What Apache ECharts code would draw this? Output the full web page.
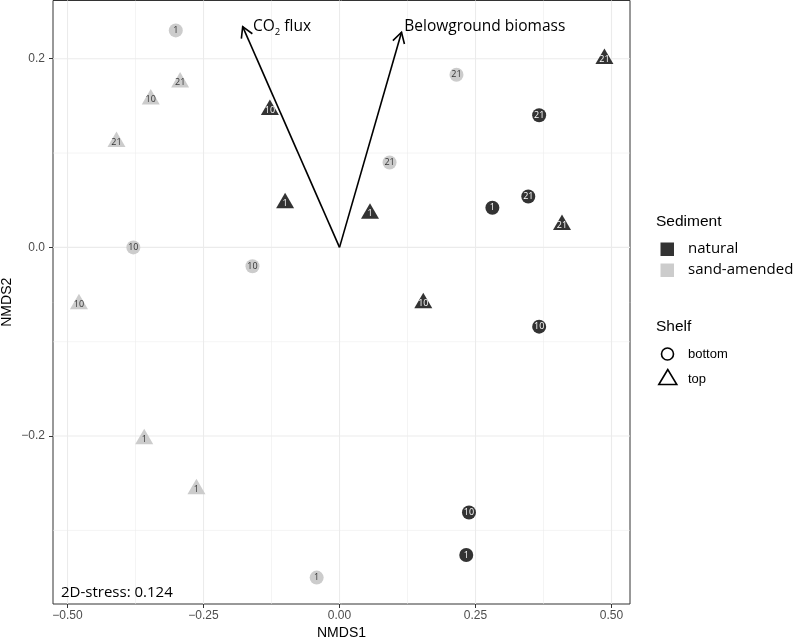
<!DOCTYPE html>
<html><head><meta charset="utf-8">
<script src="https://cdn.jsdelivr.net/npm/echarts@6/dist/echarts.min.js"></script>
<style>html,body{margin:0;padding:0;background:#fff}#c{width:797px;height:641px}</style>
</head><body><div id="c"></div>
<script>
// ---- tick values / labels ----
const xTicks = [-0.5, -0.25, 0, 0.25, 0.5];
const xTickLabels = ['\u22120.50', '\u22120.25', '0.00', '0.25', '0.50'];
const yTicks = [-0.2, 0, 0.2];
const yTickLabels = ['\u22120.2', '0.0', '0.2'];
const xMinor = [-0.375, -0.125, 0.125, 0.375];
const yMinor = [-0.3, -0.1, 0.1];

// ---- site scores: [NMDS1, NMDS2, day] ----
const naturalBottom = [[0.367, 0.140, 21], [0.281, 0.042, 1], [0.347, 0.054, 21], [0.367, -0.084, 10], [0.238, -0.281, 10], [0.233, -0.326, 1]];
const naturalTop = [[0.487, 0.200, 21], [-0.128, 0.146, 10], [-0.100, 0.047, 1], [0.056, 0.036, 1], [0.409, 0.024, 21], [0.154, -0.059, 10]];
const sandBottom = [[-0.301, 0.230, 1], [0.215, 0.183, 21], [0.092, 0.090, 21], [-0.379, 0.000, 10], [-0.160, -0.020, 10], [-0.042, -0.350, 1]];
const sandTop = [[-0.293, 0.175, 21], [-0.347, 0.157, 10], [-0.410, 0.112, 21], [-0.479, -0.060, 10], [-0.359, -0.203, 1], [-0.263, -0.256, 1]];

// ---- environmental vectors ----
const vectorNames = ['{n|CO}{s|2}{n| flux}', '{n|Belowground biomass}'];
const vectorX = [-0.178, 0.114];
const vectorY = [0.234, 0.228];
const vectorLabelX = [-0.159, 0.119];
const vectorLabelY = [0.2338, 0.2338];

const stressText = '2D-stress: 0.124';

const DARK = '#333333', LIGHT = '#cccccc';
const chart = echarts.init(document.getElementById('c'), null, {renderer: 'canvas'});

const gridLines = [];
xTicks.forEach(v => gridLines.push([v, 0, 1, 1.1]));
xMinor.forEach(v => gridLines.push([v, 0, 1, 0.55]));
yTicks.forEach(v => gridLines.push([0, v, 0, 1.1]));
yMinor.forEach(v => gridLines.push([0, v, 0, 0.55]));

const vectorData = vectorX.map((x, i) => [x, vectorY[i], vectorLabelX[i], vectorLabelY[i]]);

function pointSeries(data, color, textColor, shape) {
  const tri = shape === 'triangle';
  return {
    type: 'scatter', data: data, z: 5,
    symbol: tri ? 'triangle' : 'circle',
    symbolSize: tri ? [18, 15.5] : 14,
    symbolOffset: tri ? [0, -2.5] : [0, 0],
    itemStyle: {color: color, opacity: 1},
    label: {show: true, position: 'inside', formatter: p => String(p.value[2]),
      color: textColor, fontSize: 9, fontFamily: 'Open Sans', offset: tri ? [0, 3] : [0, 0]},
    emphasis: {disabled: true}, silent: true
  };
}

const option = {
  animation: false,
  backgroundColor: '#fff',
  grid: {left: 53, right: 167, top: 0.5, bottom: 37, containLabel: false, outerBoundsMode: 'none',
    show: true, borderColor: '#333', borderWidth: 1, backgroundColor: '#fff'},
  xAxis: {
    type: 'value', min: -0.5267, max: 0.534,
    name: 'NMDS1', nameLocation: 'middle', nameGap: 22, nameMoveOverlap: false,
    nameTextStyle: {fontFamily: 'Liberation Sans', fontSize: 14, color: '#000'},
    axisLine: {show: false, onZero: false},
    axisTick: {show: true, customValues: xTicks, length: 4, lineStyle: {color: '#333', width: 1}},
    axisLabel: {customValues: xTicks, formatter: v => { const i = xTicks.findIndex(t => Math.abs(t - v) < 1e-9); return i >= 0 ? xTickLabels[i] : ''; },
      color: '#4d4d4d', fontSize: 12, fontFamily: 'Liberation Sans', margin: 6},
    splitLine: {show: false}
  },
  yAxis: {
    type: 'value', min: -0.378, max: 0.2617,
    name: 'NMDS2', nameLocation: 'middle', nameGap: 39, nameMoveOverlap: false,
    nameTextStyle: {fontFamily: 'Liberation Sans', fontSize: 14, color: '#000'},
    axisLine: {show: false, onZero: false},
    axisTick: {show: true, customValues: yTicks, length: 4, lineStyle: {color: '#333', width: 1}},
    axisLabel: {customValues: yTicks, formatter: v => { const i = yTicks.findIndex(t => Math.abs(t - v) < 1e-9); return i >= 0 ? yTickLabels[i] : ''; },
      color: '#4d4d4d', fontSize: 12, fontFamily: 'Liberation Sans', margin: 8},
    splitLine: {show: false}
  },
  series: [
    {
      type: 'custom', z: 1, silent: true, data: gridLines, encode: {x: 0, y: 1},
      renderItem: (params, api) => {
        const cs = params.coordSys;
        const isX = api.value(2) === 1;
        const w = api.value(3);
        const p = api.coord([api.value(0), api.value(1)]);
        const shape = isX ? {x1: p[0], y1: cs.y, x2: p[0], y2: cs.y + cs.height}
                          : {x1: cs.x, y1: p[1], x2: cs.x + cs.width, y2: p[1]};
        return {type: 'line', shape: shape, style: {stroke: '#ebebeb', lineWidth: w}};
      }
    },
    {
      type: 'custom', z: 3, silent: true, data: vectorData, encode: {x: 0, y: 1},
      renderItem: (params, api) => {
        const o = api.coord([0, 0]);
        const t = api.coord([api.value(0), api.value(1)]);
        const ang = Math.atan2(t[1] - o[1], t[0] - o[0]);
        const L = 12, a = Math.PI / 6;
        const b1 = [t[0] - L * Math.cos(ang - a), t[1] - L * Math.sin(ang - a)];
        const b2 = [t[0] - L * Math.cos(ang + a), t[1] - L * Math.sin(ang + a)];
        const lp = api.coord([api.value(2), api.value(3)]);
        return {type: 'group', children: [
          {type: 'line', shape: {x1: o[0], y1: o[1], x2: t[0], y2: t[1]}, style: {stroke: '#000', lineWidth: 1.6}},
          {type: 'polyline', shape: {points: [b1, t, b2]}, style: {stroke: '#000', lineWidth: 1.6, fill: null}},
          {type: 'text', x: lp[0], y: lp[1], style: {
            text: vectorNames[params.dataIndex], align: 'left', verticalAlign: 'middle', fill: '#000',
            rich: {
              n: {fontFamily: 'Open Sans', fontSize: 15.5, lineHeight: 20, fill: '#000'},
              s: {fontFamily: 'Open Sans', fontSize: 9.5, lineHeight: 9, verticalAlign: 'bottom', fill: '#000'}
            }}}
        ]};
      }
    },
    pointSeries(naturalBottom, DARK, '#fff', 'circle'),
    pointSeries(naturalTop, DARK, '#fff', 'triangle'),
    pointSeries(sandBottom, LIGHT, '#333', 'circle'),
    pointSeries(sandTop, LIGHT, '#333', 'triangle')
  ],
  graphic: [
    {type: 'text', left: 61, top: 585, style: {text: stressText, fontFamily: 'Open Sans', fontSize: 15, fill: '#000'}, z: 10},
    // legend: Sediment
    {type: 'text', x: 656, y: 222, style: {text: 'Sediment', fontFamily: 'Liberation Sans', fontSize: 15.5, fill: '#000', verticalAlign: 'middle'}},
    {type: 'rect', shape: {x: 660.5, y: 242.5, width: 13.5, height: 13.5}, style: {fill: DARK}},
    {type: 'rect', shape: {x: 660.5, y: 263.5, width: 13.5, height: 13.5}, style: {fill: LIGHT}},
    {type: 'text', x: 688, y: 249, style: {text: 'natural', fontFamily: 'Open Sans', fontSize: 15, fill: '#000', verticalAlign: 'middle'}},
    {type: 'text', x: 688, y: 270, style: {text: 'sand-amended', fontFamily: 'Open Sans', fontSize: 15, fill: '#000', verticalAlign: 'middle'}},
    // legend: Shelf
    {type: 'text', x: 656, y: 327, style: {text: 'Shelf', fontFamily: 'Liberation Sans', fontSize: 15.5, fill: '#000', verticalAlign: 'middle'}},
    {type: 'circle', shape: {cx: 667.5, cy: 354, r: 6}, style: {fill: null, stroke: '#000', lineWidth: 1.6}},
    {type: 'polygon', shape: {points: [[667.8, 369.5], [658.8, 384.5], [676.8, 384.5]]}, style: {fill: null, stroke: '#000', lineWidth: 1.6}},
    {type: 'text', x: 688, y: 354, style: {text: 'bottom', fontFamily: 'Liberation Sans', fontSize: 13, fill: '#000', verticalAlign: 'middle'}},
    {type: 'text', x: 688, y: 379, style: {text: 'top', fontFamily: 'Liberation Sans', fontSize: 13, fill: '#000', verticalAlign: 'middle'}}
  ]
};
chart.setOption(option);
</script></body></html>
